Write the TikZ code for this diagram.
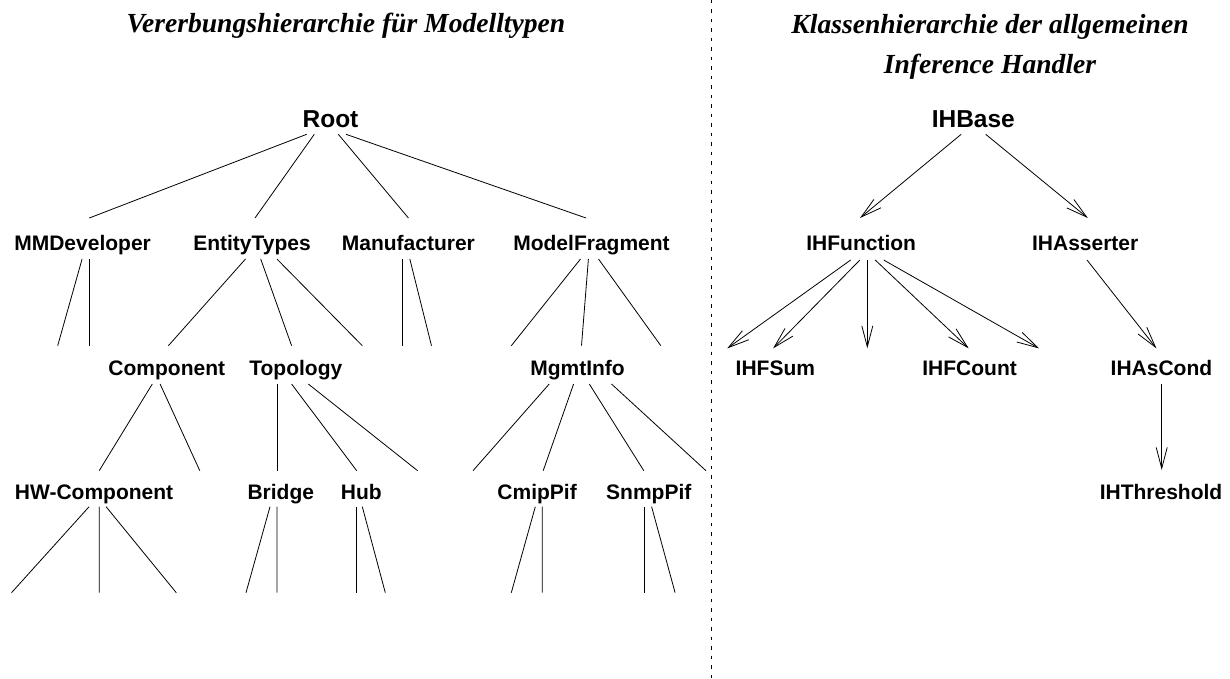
\documentclass[tikz,border=0pt]{standalone}
\usepackage{fontspec}
\setmainfont{Liberation Serif}
\newfontfamily\sansfnt{Liberation Sans}
\usetikzlibrary{calc,arrows.meta}
\begin{document}
\begin{tikzpicture}[x=1pt,y=-1pt,
  lbl/.style={anchor=base,inner sep=0pt,font=\sansfnt\bfseries\fontsize{21}{25}\selectfont},
  toplbl/.style={anchor=base,inner sep=0pt,font=\sansfnt\bfseries\fontsize{24.5}{29}\selectfont},
  ttl/.style={anchor=base,inner sep=0pt,font=\bfseries\itshape\fontsize{27.6}{33}\selectfont},
  link/.style={line width=0.8pt},
  arrowlink/.style={link,-{Straight Barb[length=21pt,width=11pt]}},
  sep/.style={line width=0.9pt,dash pattern=on 3.5pt off 6pt}]
\useasboundingbox (0,0) rectangle (1230,679);

% titles
\node[ttl] (t1) at (346,33) {Vererbungshierarchie für Modelltypen};
\node[ttl] (t2) at (990,33.3) {Klassenhierarchie der allgemeinen};
\node[ttl] (t3) at (990,74) {Inference Handler};

% separator
\coordinate (septop) at (711.7,0);
\coordinate (sepbot) at (711.7,679);
\draw[sep] (septop) -- (sepbot);

% ---------- inheritance tree of model types ----------
\node[toplbl] (root) at (330.5,127.3) {Root};
\node[lbl] (mmd) at (82.6,250.7) {MMDeveloper};
\node[lbl] (ent) at (252,250.7) {EntityTypes};
\node[lbl] (man) at (408.4,250.7) {Manufacturer};
\node[lbl] (mf) at (591.5,250.7) {ModelFragment};
\node[lbl] (comp) at (166.8,375) {Component};
\node[lbl] (topo) at (295.8,375) {Topology};
\node[lbl] (mgmt) at (577.5,375) {MgmtInfo};
\node[lbl] (hw) at (94.1,499.3) {HW-Component};
\node[lbl] (bridge) at (280.8,499.3) {Bridge};
\node[lbl] (hub) at (361.3,499.3) {Hub};
\node[lbl] (cmip) at (537.1,499.3) {CmipPif};
\node[lbl] (snmp) at (648.8,499.3) {SnmpPif};

% open ends of the tree
\coordinate (mmdA) at (57.7,345.7);
\coordinate (mmdB) at (89,345.7);
\coordinate (entC) at (362.3,345.7);
\coordinate (manA) at (402.4,345.7);
\coordinate (manB) at (431.5,345.7);
\coordinate (mfA) at (511.3,345.7);
\coordinate (mfC) at (660.8,345.7);
\coordinate (compB) at (199.8,470.7);
\coordinate (topoC) at (417.6,470.7);
\coordinate (mgmtA) at (473,470.7);
\coordinate (mgmtD) at (706,470.7);
\coordinate (hwA) at (11.5,592.7);
\coordinate (hwB) at (99.2,592.7);
\coordinate (hwC) at (176.3,592.7);
\coordinate (brA) at (246,592.7);
\coordinate (brB) at (276.9,592.7);
\coordinate (hubA) at (356.7,592.7);
\coordinate (hubB) at (385.3,592.7);
\coordinate (cmA) at (511.3,592.7);
\coordinate (cmB) at (542.2,592.7);
\coordinate (snA) at (644.7,592.7);
\coordinate (snB) at (675.1,592.7);

% root level
\draw[link] ($(root.base)+(-23.8,7)$) -- ($(mmd.base)+(6.7,-32.7)$);
\draw[link] ($(root.base)+(-16.2,7)$) -- ($(ent.base)+(3,-32.7)$);
\draw[link] ($(root.base)+(7.8,7)$) -- ($(man.base)+(0,-32.7)$);
\draw[link] ($(root.base)+(15.5,7)$) -- ($(mf.base)+(-5.5,-32.7)$);

% second level
\draw[link] ($(mmd.base)+(-0.5,8.3)$) -- (mmdA);
\draw[link] ($(mmd.base)+(6.4,8.3)$) -- (mmdB);
\draw[link] ($(ent.base)+(-6.5,8.3)$) -- ($(comp.base)+(1.6,-29.3)$);
\draw[link] ($(ent.base)+(8.7,8.3)$) -- ($(topo.base)+(-4.2,-29.3)$);
\draw[link] ($(ent.base)+(24.9,8.3)$) -- (entC);
\draw[link] ($(man.base)+(-6,8.3)$) -- (manA);
\draw[link] ($(man.base)+(1.4,8.3)$) -- (manB);
\draw[link] ($(mf.base)+(-11,8.3)$) -- (mfA);
\draw[link] ($(mf.base)+(-3.1,8.3)$) -- ($(mgmt.base)+(4,-29.3)$);
\draw[link] ($(mf.base)+(7,8.3)$) -- (mfC);

% third level
\draw[link] ($(comp.base)+(-14.5,9)$) -- ($(hw.base)+(5.1,-28.6)$);
\draw[link] ($(comp.base)+(-6.7,9)$) -- (compB);
\draw[link] ($(topo.base)+(-18.9,9)$) -- ($(bridge.base)+(-3.9,-28.6)$);
\draw[link] ($(topo.base)+(-4.2,9)$) -- ($(hub.base)+(-4.6,-28.6)$);
\draw[link] ($(topo.base)+(12.5,9)$) -- (topoC);
\draw[link] ($(mgmt.base)+(-28.3,9)$) -- (mgmtA);
\draw[link] ($(mgmt.base)+(-3.9,9)$) -- ($(cmip.base)+(6.1,-28.6)$);
\draw[link] ($(mgmt.base)+(11.8,9)$) -- ($(snmp.base)+(-5,-28.6)$);
\draw[link] ($(mgmt.base)+(34,9)$) -- (mgmtD);

% fourth level
\draw[link] ($(hw.base)+(-5,7.4)$) -- (hwA);
\draw[link] ($(hw.base)+(5.1,7.4)$) -- (hwB);
\draw[link] ($(hw.base)+(12,7.4)$) -- (hwC);
\draw[link] ($(bridge.base)+(-10.8,7.4)$) -- (brA);
\draw[link] ($(bridge.base)+(-3.9,7.4)$) -- (brB);
\draw[link] ($(hub.base)+(-4.6,7.4)$) -- (hubA);
\draw[link] ($(hub.base)+(1,7.4)$) -- (hubB);
\draw[link] ($(cmip.base)+(-1.8,7.4)$) -- (cmA);
\draw[link] ($(cmip.base)+(5.1,7.4)$) -- (cmB);
\draw[link] ($(snmp.base)+(-4.1,7.4)$) -- (snA);
\draw[link] ($(snmp.base)+(2.8,7.4)$) -- (snB);

% ---------- class hierarchy of the inference handlers ----------
\node[toplbl] (ihbase) at (973.3,127.3) {IHBase};
\node[lbl] (ihfunc) at (861.2,250.5) {IHFunction};
\node[lbl] (ihass) at (1085.2,250.5) {IHAsserter};
\node[lbl] (ihfsum) at (775.4,375) {IHFSum};
\node[lbl] (ihfcount) at (969.6,375) {IHFCount};
\node[lbl] (ihascond) at (1161.4,375) {IHAsCond};
\node[lbl] (ihthr) at (1161,499.3) {IHThreshold};

\coordinate (fA) at (727.2,348.4);
\coordinate (fC) at (867.3,348.4);
\coordinate (fE) at (1039.1,348.4);

\draw[arrowlink] ($(ihbase.base)+(-12.1,7)$) -- ($(ihfunc.base)+(-1.2,-32.5)$);
\draw[arrowlink] ($(ihbase.base)+(12.4,7)$) -- ($(ihass.base)+(2.6,-32.5)$);
\draw[arrowlink] ($(ihfunc.base)+(-10.5,9.5)$) -- (fA);
\draw[arrowlink] ($(ihfunc.base)+(-1.3,9.5)$) -- ($(ihfsum.base)+(-2.3,-26.6)$);
\draw[arrowlink] ($(ihfunc.base)+(6.1,9.5)$) -- (fC);
\draw[arrowlink] ($(ihfunc.base)+(14,9.5)$) -- ($(ihfcount.base)+(-0.9,-26.6)$);
\draw[arrowlink] ($(ihfunc.base)+(22.5,9.5)$) -- (fE);
\draw[arrowlink] ($(ihass.base)+(1.8,9.5)$) -- ($(ihascond.base)+(-5,-26.6)$);
\draw[arrowlink] ($(ihascond.base)+(0.3,9)$) -- ($(ihthr.base)+(0.7,-29.3)$);
\end{tikzpicture}
\end{document}
